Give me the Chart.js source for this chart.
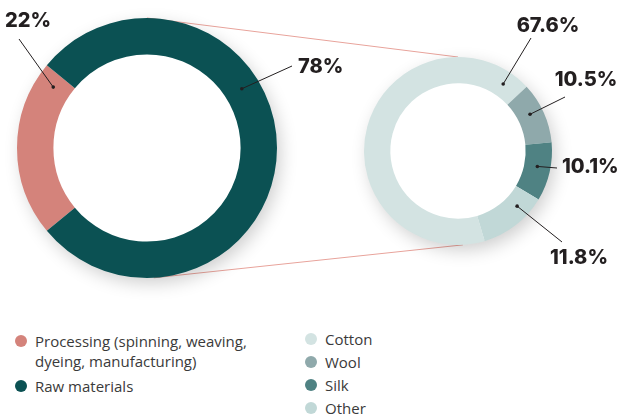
<!DOCTYPE html>
<html>
<head>
<meta charset="utf-8">
<script src="https://cdn.jsdelivr.net/npm/chart.js@4.4.1/dist/chart.umd.min.js"></script>
<style>
  body { margin: 0; background: #fff; width: 620px; height: 416px; position: relative; overflow: hidden; font-family: "Open Sans", sans-serif; }
  #links { position: absolute; left: 0; top: 0; }
  #leftChart { position: absolute; left: 0; top: 0; }
  #rightChart { position: absolute; left: 350px; top: 0; }
  .legend { position: absolute; display: flex; flex-direction: column; font-size: 15px; line-height: 20px; color: #3a3a3a; }
  .legend .item { display: flex; align-items: flex-start; }
  .legend .dot { width: 12px; height: 12px; border-radius: 50%; margin-top: 4px; margin-right: 8px; flex: none; }
  #legendLeft { left: 15px; top: 331px; width: 245px; gap: 5px; }
  #legendRight { left: 305px; top: 329px; gap: 3px; }
</style>
</head>
<body>
<canvas id="links" width="620" height="300"></canvas>
<canvas id="leftChart" width="360" height="300"></canvas>
<canvas id="rightChart" width="270" height="300"></canvas>
<div class="legend" id="legendLeft"></div>
<div class="legend" id="legendRight"></div>
<script>
// value chain split
const groupLabels = ['Processing (spinning, weaving, dyeing, manufacturing)', 'Raw materials'];
const groupShares = [22, 78];
const groupColors = ['#d4837b', '#0b5153'];

// raw materials by fibre
const fibreLabels = ['Cotton', 'Wool', 'Silk', 'Other'];
const fibreShares = [67.6, 10.5, 10.1, 11.8];
const fibreColors = ['#d3e3e2', '#8fa9ab', '#4f8283', '#c1d8d7'];

// callout layout: dot angle (deg from top), leader end and text centre relative to ring centre
const leftCallouts = [
    { angle: 303, end: [-128, -109], text: [-119, -127], align: 'center' },
    { angle: 58, end: [145, -82], text: [151, -81], align: 'left' }
];
const rightCallouts = [
    { angle: 34, end: [73, -113], text: [90, -125], align: 'center' },
    { angle: 63, end: [107, -54], text: [128, -71], align: 'center' },
    { angle: 101, end: [99, 17], text: [104, 16], align: 'left' },
    { angle: 133, end: [104, 91], text: [121, 107], align: 'center' }
];

const ringShadow = {
    id: 'ringShadow',
    beforeDatasetsDraw(chart) {
        const arc = chart.getDatasetMeta(0).data[0];
        const ctx = chart.ctx;
        ctx.save();
        ctx.shadowColor = 'rgba(0, 0, 0, 0.2)';
        ctx.shadowBlur = 18;
        ctx.shadowOffsetX = 4;
        ctx.shadowOffsetY = 6;
        ctx.fillStyle = '#fff';
        ctx.beginPath();
        ctx.arc(arc.x, arc.y, arc.outerRadius - 1, 0, Math.PI * 2);
        ctx.fill();
        ctx.restore();
    }
};

const callouts = {
    id: 'callouts',
    afterDatasetsDraw(chart, args, opts) {
        const arc = chart.getDatasetMeta(0).data[0];
        const values = chart.data.datasets[0].data;
        const ctx = chart.ctx;
        const r = (arc.innerRadius + arc.outerRadius) / 2;
        ctx.save();
        opts.items.forEach((c, i) => {
            const a = c.angle * Math.PI / 180;
            const dx = arc.x + Math.sin(a) * r;
            const dy = arc.y - Math.cos(a) * r;
            ctx.strokeStyle = '#231f20';
            ctx.lineWidth = 1;
            ctx.beginPath();
            ctx.moveTo(dx, dy);
            ctx.lineTo(arc.x + c.end[0], arc.y + c.end[1]);
            ctx.stroke();
            ctx.fillStyle = '#231f20';
            ctx.beginPath();
            ctx.arc(dx, dy, 1.8, 0, Math.PI * 2);
            ctx.fill();
            ctx.font = '800 20px Inter';
            ctx.textAlign = c.align;
            ctx.textBaseline = 'middle';
            ctx.fillText(values[i] + '%', arc.x + c.text[0], arc.y + c.text[1]);
        });
        ctx.restore();
    }
};

function RingChart(id, labels, values, colors, rotation, padding, items) {
    return new Chart(document.getElementById(id), {
        type: 'doughnut',
        data: {
            labels: labels,
            datasets: [{
                data: values,
                backgroundColor: colors,
                borderWidth: 0
            }]
        },
        options: {
            responsive: false,
            animation: false,
            events: [],
            cutout: '72%',
            rotation: rotation,
            layout: { padding: padding },
            plugins: {
                legend: { display: false },
                tooltip: { enabled: false },
                callouts: { items: items }
            }
        },
        plugins: [ringShadow, callouts]
    });
}

const leftStart = 270 - groupShares[0] * 3.6 / 2;
const left = RingChart('leftChart', groupLabels, groupShares, groupColors, leftStart,
    { left: 17, right: 83, top: 17, bottom: 21 }, leftCallouts);
const right = RingChart('rightChart', fibreLabels, fibreShares, fibreColors, 163.5,
    { left: 14, right: 68, top: 57, bottom: 55 }, rightCallouts);

// connector lines between the two rings
function DrawLinks() {
    const ctx = document.getElementById('links').getContext('2d');
    const a = left.getDatasetMeta(0).data[0];
    const b = right.getDatasetMeta(0).data[0];
    const bx = b.x + 350;
    ctx.strokeStyle = '#e8a39b';
    ctx.lineWidth = 1;
    ctx.beginPath();
    ctx.moveTo(a.x, a.y - a.outerRadius);
    ctx.lineTo(bx, b.y - b.outerRadius);
    const t = 177 * Math.PI / 180;
    ctx.moveTo(a.x + Math.sin(t) * a.outerRadius, a.y - Math.cos(t) * a.outerRadius);
    ctx.lineTo(bx + Math.sin(t) * b.outerRadius, b.y - Math.cos(t) * b.outerRadius);
    ctx.stroke();
}
DrawLinks();

function BuildLegend(el, labels, colors) {
    labels.forEach((label, i) => {
        const item = document.createElement('div');
        item.className = 'item';
        item.innerHTML = '<span class="dot" style="background:' + colors[i] + '"></span><span>' + label + '</span>';
        el.appendChild(item);
    });
}
BuildLegend(document.getElementById('legendLeft'), groupLabels, groupColors);
BuildLegend(document.getElementById('legendRight'), fibreLabels, fibreColors);
</script>
</body>
</html>
